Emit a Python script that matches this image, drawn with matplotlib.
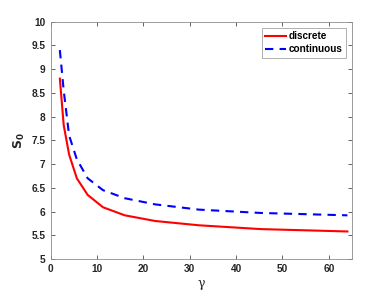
import numpy as np
import matplotlib
matplotlib.use("Agg")
import matplotlib.pyplot as plt

plt.rcParams['font.family'] = ['Liberation Sans', 'DejaVu Sans']

# ── Data ────────────────────────────────────────────────────────
gamma = [2, 2.83, 4, 5.66, 8, 11.3, 16, 22.6, 32, 45.3, 64]
s0_discrete = [8.8, 7.82, 7.2, 6.7, 6.35, 6.09, 5.92, 5.8, 5.71, 5.63, 5.58]
s0_continuous = [9.4, 8.55, 7.6, 7.1, 6.7, 6.45, 6.28, 6.15, 6.04, 5.97, 5.92]

xticks = [0, 10, 20, 30, 40, 50, 60]
yticks = [5, 5.5, 6, 6.5, 7, 7.5, 8, 8.5, 9, 9.5, 10]
ytick_labels = ["5", "5.5", "6", "6.5", "7", "7.5", "8", "8.5", "9", "9.5", "10"]

axis_color = "#262626"

fig = plt.figure(figsize=(3.89, 2.92), dpi=100)
ax = fig.add_axes([0.13, 0.113, 0.775, 0.813])

ax.plot(gamma, s0_discrete, color="red", linewidth=1.5, label="discrete")
ax.plot(gamma, s0_continuous, color="blue", linewidth=1.5,
        linestyle=(0, (4, 3)), label="continuous")

ax.set_xlim(0, 65)
ax.set_ylim(5, 10)
ax.set_xticks(xticks)
ax.set_yticks(yticks)
ax.set_yticklabels(ytick_labels)

ax.tick_params(direction="in", length=3, width=0.5, colors=axis_color,
               labelsize=7.3, top=True, right=True, pad=3.5)
for lbl in ax.get_xticklabels() + ax.get_yticklabels():
    lbl.set_fontweight("bold")
for sp in ax.spines.values():
    sp.set_linewidth(0.6)
    sp.set_color("#8c8c8c")

ax.set_xlabel("γ", fontsize=9, color=axis_color, labelpad=2,
              family=["DejaVu Serif"])
ax.set_ylabel(r"$\mathbf{S}_\mathbf{0}$", fontsize=9, color=axis_color,
              labelpad=3)

leg = ax.legend(loc="upper right", frameon=True, fancybox=False,
                handlelength=2.1, handletextpad=0.25, borderpad=0.35,
                labelspacing=0.3, borderaxespad=0.6,
                prop={"weight": "bold", "size": 7.2})
leg.get_frame().set_edgecolor("#8c8c8c")
leg.get_frame().set_linewidth(0.6)

plt.savefig("out.png", dpi=100)
plt.close()
